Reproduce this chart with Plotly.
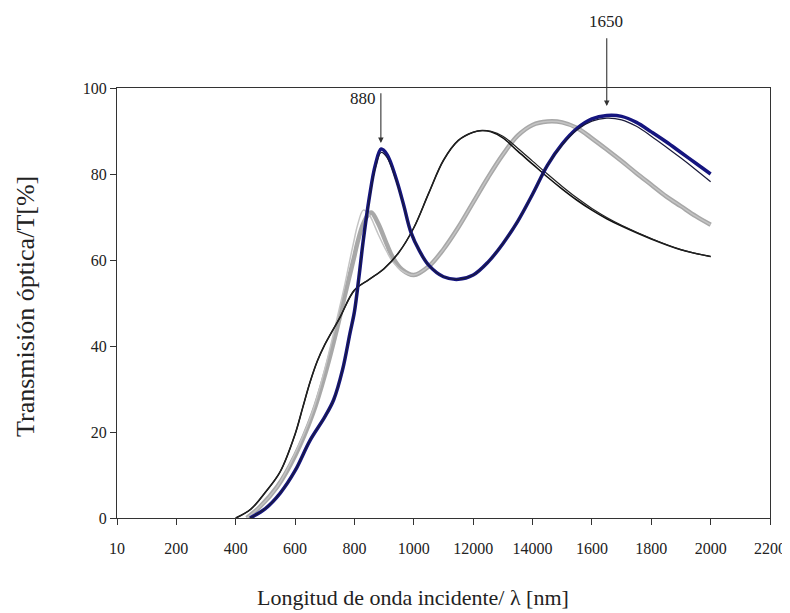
import plotly.graph_objects as go

# ---- data ----
x_black = [400, 450, 500, 550, 600, 625, 650, 675, 700, 750, 800, 850, 900, 950, 1000, 1050, 1100,
           1150, 1200, 1230, 1260, 1300, 1350, 1400, 1450, 1500, 1550, 1600, 1650, 1700, 1800, 1900, 2000]
t_black = [0, 2, 6, 10.8, 19.5, 25.5, 31.5, 36.5, 40.3, 46.5, 53, 55.5, 58, 61.8, 67.5, 75.5, 83.2,
           87.8, 89.7, 90.1, 89.8, 88.4, 85.3, 82.3, 79.3, 76.5, 73.9, 71.6, 69.6, 67.9, 64.9, 62.4, 60.8]
t_black2 = [0, 2, 6, 10.8, 19.5, 25.5, 31.5, 36.5, 40.3, 46.5, 53, 55.5, 58, 61.8, 67.5, 75.5, 83.2,
            87.8, 89.7, 90.1, 89.9, 88.8, 86.0, 83.0, 80.0, 77.1, 74.4, 72.0, 69.9, 68.1, 65.0, 62.4, 60.8]

x_gray = [437, 480, 540, 600, 660, 705, 740, 765, 780, 800, 810, 830, 850, 858, 880, 910, 930, 960,
          1000, 1050, 1100, 1150, 1200, 1250, 1300, 1350, 1400, 1450, 1500, 1550, 1600, 1650, 1700,
          1750, 1800, 1850, 1900, 1950, 2000]
t_gray = [0, 2.5, 7.3, 14.5, 24.3, 34.4, 43.7, 51, 55.3, 61, 64, 68.5, 70.8, 71, 68.5, 63.5, 60.5, 57.8,
          56.5, 58.5, 62.5, 67.6, 73.4, 79.2, 84.5, 88.9, 91.4, 92.2, 92, 90.7, 88.3, 85.7, 83,
          80.2, 77.5, 74.8, 72.5, 70.2, 68.2]
t_gray_thin = [0, 2.5, 7.3, 15, 25, 36, 46, 53.5, 58.5, 65, 68, 71.6, 70.5, 69.5, 66, 61.8, 59.5, 57.5,
               56.5, 58.5, 62.5, 67.6, 73.4, 79.2, 84.5, 88.9, 91.4, 92.2, 92, 90.7, 88.3, 85.7, 83,
               80.2, 77.5, 74.8, 72.5, 70.2, 68.2]

x_blue = [448, 500, 550, 600, 650, 700, 730, 760, 785, 800, 815, 830, 850, 870, 890, 910, 940, 965,
          990, 1020, 1050, 1100, 1150, 1200, 1250, 1300, 1350, 1400, 1450, 1500, 1550, 1600, 1650,
          1700, 1750, 1800, 1850, 1900, 1950, 2000]
t_blue = [0, 2.2, 5.8, 11, 18, 23.5, 27.5, 34.5, 43, 48, 56, 64.7, 74.5, 82, 85.8, 84.5, 79, 73,
          66.5, 62, 58.8, 56.1, 55.5, 56.5, 59.5, 63.8, 69, 75.3, 82, 87, 90.6, 92.8, 93.6,
          93.4, 92, 89.8, 87.5, 85, 82.5, 80]
t_blue_thin = [0, 2.2, 5.8, 11, 18, 23.5, 27.5, 34.5, 43, 48, 56, 64.5, 74, 81.3, 85, 83.8, 78.6, 72.8,
               66.5, 62, 58.8, 56.1, 55.5, 56.5, 59.5, 63.8, 69, 75.3, 82, 86.8, 90.3, 92.3, 93.0,
               92.6, 91.1, 88.8, 86.3, 83.7, 81, 78.2]

x_ticks = [0, 200, 400, 600, 800, 1000, 1200, 1400, 1600, 1800, 2000, 2200]
x_ticktext = ["10", "200", "400", "600", "800", "1000", "12000", "14000", "1600", "1800", "2000", "2200"]
y_ticks = [0, 20, 40, 60, 80, 100]

FONT = "Liberation Serif"
fig = go.Figure()

def add(x, y, color, width):
    fig.add_trace(go.Scatter(x=x, y=y, mode="lines", showlegend=False, hoverinfo="skip",
                             line=dict(color=color, width=width, shape="spline", smoothing=1.0)))

add(x_gray, t_gray, "#a8a8a8", 4.5)
add(x_gray, t_gray_thin, "#c4c4c4", 1.5)
add(x_black, t_black, "#111111", 1.6)
add(x_black, t_black2, "#222222", 1.2)
add(x_blue, t_blue, "#15157f", 3.5)
add(x_blue, t_blue_thin, "#1a1a3a", 1.2)

ann = []
# arrows
ann.append(dict(x=889, y=87.2, ax=889, ay=99.1, xref="x", yref="y", axref="x", ayref="y",
                text="", showarrow=True, arrowhead=2, arrowsize=1, arrowwidth=1.1, arrowcolor="#333"))
ann.append(dict(x=1650, y=95.8, ax=1650, ay=111.9, xref="x", yref="y", axref="x", ayref="y",
                text="", showarrow=True, arrowhead=2, arrowsize=1, arrowwidth=1.1, arrowcolor="#333"))
ann.append(dict(x=829, y=(518 - 98) / 430, xref="x", yref="paper", text="880", showarrow=False,
                yanchor="middle", font=dict(family=FONT, size=17, color="#222")))
ann.append(dict(x=1648, y=(518 - 22) / 430, xref="x", yref="paper", text="1650", showarrow=False,
                yanchor="middle", font=dict(family=FONT, size=17, color="#222")))
# axis titles
ann.append(dict(x=0.453, y=-0.186, xref="paper", yref="paper", text="Longitud de onda incidente/ λ [nm]",
                showarrow=False, xanchor="center", yanchor="middle",
                font=dict(family=FONT, size=22, color="#222")))
ann.append(dict(x=-0.141, y=0.493, xref="paper", yref="paper", text="Transmisión óptica/T[%]",
                showarrow=False, textangle=-90, xanchor="center", yanchor="middle",
                font=dict(family=FONT, size=26, color="#222")))

# page body has an 8px margin, so the figure is offset by (8, 8)
fig.update_layout(
    width=782, height=605,
    margin=dict(l=109, r=20, t=80, b=95, autoexpand=False),
    paper_bgcolor="white", plot_bgcolor="white",
    annotations=ann,
    font=dict(family=FONT, size=16, color="#222"),
)
fig.update_xaxes(range=[0, 2200], tickvals=x_ticks, ticktext=x_ticktext, showgrid=False, zeroline=False,
                 showline=True, linecolor="#333", linewidth=1.2, mirror=True, automargin=False,
                 ticks="outside", ticklen=6, tickcolor="#333", ticklabelstandoff=10,
                 ticklabeloverflow="allow",
                 tickfont=dict(family=FONT, size=16, color="#222"))
fig.update_yaxes(range=[0, 100], tickvals=y_ticks, showgrid=False, zeroline=False,
                 showline=True, linecolor="#333", linewidth=1.2, mirror=True, automargin=False,
                 ticks="outside", ticklen=6, tickcolor="#333",
                 tickfont=dict(family=FONT, size=16, color="#222"))

fig.write_html("out.html")
